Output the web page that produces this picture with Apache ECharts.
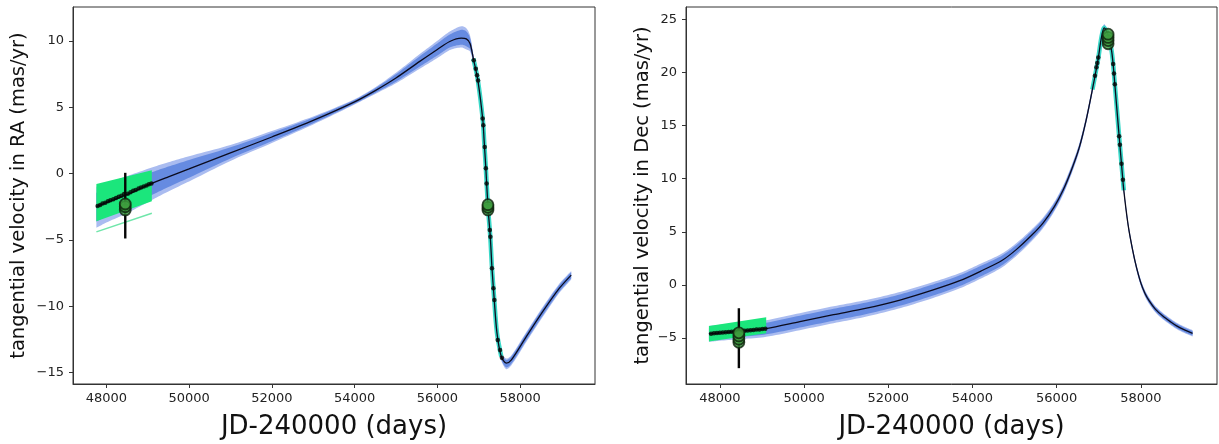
<!DOCTYPE html>
<html>
<head>
<meta charset="utf-8">
<script src="https://cdn.jsdelivr.net/npm/echarts@6/dist/echarts.min.js"></script>
<style>
html,body{margin:0;padding:0;background:#fff;}
#chart{width:1219px;height:444px;}
</style>
</head>
<body>
<div id="chart"></div>
<script>
// ---------- DATA ----------
// Axis tick labels
const xTicks = [48000, 50000, 52000, 54000, 56000, 58000];
const raYTicks = [-15, -10, -5, 0, 5, 10];
const decYTicks = [-5, 0, 5, 10, 15, 20, 25];

// Left panel: tangential velocity in RA
const raX = [47760, 48000, 48500, 49100, 49500, 50000, 51000, 52000, 53000, 54000, 54500, 55000, 55575, 56000, 56300, 56580, 56700, 56790, 56870, 56980, 57100, 57130, 57170, 57223, 57280, 57320, 57370, 57440, 57545, 57665, 57790, 58150, 58550, 58950, 59235];
const raY = [-2.5, -2.2, -1.6, -0.75, -0.25, 0.35, 1.55, 2.75, 4.0, 5.4, 6.25, 7.2, 8.45, 9.35, 9.95, 10.2, 10.15, 9.8, 8.66, 7.0, 4.0, 2.5, 0.5, -2.5, -4.8, -7.1, -9.3, -12.0, -13.8, -14.3, -14.05, -12.3, -10.4, -8.65, -7.66];
const raUp = [-1.0, -0.75, -0.2, 0.45, 0.85, 1.3, 2.15, 3.2, 4.3, 5.6, 6.5, 7.6, 9.0, 10.0, 10.7, 11.1, 10.95, 10.4, 9.0, 7.3, 4.3, 2.8, 0.8, -2.2, -4.5, -6.8, -9.0, -11.7, -13.5, -13.95, -13.7, -11.95, -10.05, -8.3, -7.35];
const raLo = [-4.1, -3.7, -3.0, -2.0, -1.35, -0.6, 0.95, 2.3, 3.7, 5.2, 6.0, 6.8, 7.9, 8.7, 9.3, 9.5, 9.35, 9.2, 8.3, 6.7, 3.7, 2.2, 0.2, -2.8, -5.1, -7.4, -9.6, -12.3, -14.1, -14.75, -14.45, -12.7, -10.8, -9.0, -8.0];
const raHipX = [47760, 49100];
const raHipTop = [-0.8, 0.25];
const raHipBot = [-3.6, -2.1];
const raHipOutlier = [-4.4, -3.0];
const raGaiaRange = [56850, 57600];
const raHipDotsX = [47790, 47850, 47910, 47975, 48040, 48100, 48170, 48235, 48300, 48365, 48430, 48520, 48585, 48650, 48710, 48780, 48840, 48905, 48970, 49030, 49090];
const raHipDotsY = [-2.45, -2.38, -2.27, -2.2, -2.1, -2.02, -1.95, -1.84, -1.75, -1.68, -1.55, -1.52, -1.42, -1.3, -1.24, -1.14, -1.05, -0.98, -0.9, -0.82, -0.76];
const raGaiaDotsX = [56880, 56930, 56960, 56985, 57095, 57110, 57145, 57172, 57190, 57268, 57282, 57320, 57355, 57378, 57460, 57515, 57560];
const raGaiaDotsY = [8.53, 7.9, 7.4, 7.0, 4.14, 3.64, 2.0, 0.4, -0.75, -4.27, -4.77, -7.15, -8.66, -9.54, -12.55, -13.3, -13.9];
const raErrX = [48458];
const raErrLo = [-4.9];
const raErrHi = [0.05];
const raObsX = [48458, 48458, 48458, 57223, 57223, 57223];
const raObsY = [-2.75, -2.5, -2.3, -2.75, -2.55, -2.35];

// Right panel: tangential velocity in Dec
const decX = [47740, 48000, 48500, 49100, 49900, 50700, 51485, 52300, 53067, 53700, 54255, 54700, 55048, 55400, 55680, 55950, 56155, 56350, 56535, 56700, 56850, 56988, 57060, 57130, 57223, 57300, 57342, 57382, 57485, 57541, 57596, 57700, 57800, 57900, 58000, 58100, 58200, 58350, 58530, 58700, 58850, 59050, 59230];
const decY = [-4.6, -4.5, -4.35, -4.1, -3.45, -2.8, -2.19, -1.4, -0.47, 0.4, 1.41, 2.3, 3.35, 4.65, 5.85, 7.4, 8.93, 10.8, 12.9, 15.5, 18.4, 21.3, 23.2, 24.2, 23.5, 22.2, 20.8, 18.9, 14.0, 11.4, 8.9, 5.6, 3.4, 1.6, 0.2, -0.8, -1.5, -2.3, -2.95, -3.45, -3.85, -4.25, -4.55];
const decUp = [-3.85, -3.75, -3.6, -3.32, -2.65, -2.0, -1.41, -0.64, 0.28, 1.12, 2.11, 2.95, 3.95, 5.2, 6.35, 7.85, 9.35, 11.2, 13.28, 15.86, 18.75, 21.65, 23.55, 24.55, 23.8, 22.5, 21.1, 19.2, 14.3, 11.7, 9.2, 5.9, 3.7, 1.9, 0.5, -0.5, -1.2, -2.0, -2.65, -3.15, -3.55, -3.95, -4.25];
const decLo = [-5.35, -5.25, -5.1, -4.88, -4.25, -3.6, -2.97, -2.16, -1.22, -0.32, 0.71, 1.65, 2.75, 4.1, 5.35, 6.95, 8.51, 10.4, 12.52, 15.14, 18.05, 20.95, 22.85, 23.85, 23.2, 21.9, 20.5, 18.6, 13.7, 11.1, 8.6, 5.3, 3.1, 1.3, -0.1, -1.1, -1.8, -2.6, -3.25, -3.75, -4.15, -4.55, -4.85];
const decHipX = [47740, 49100];
const decHipTop = [-3.85, -3.04];
const decHipBot = [-5.33, -4.54];
const decGaiaRange = [56850, 57600];
const decHipDotsX = [47790, 47860, 47930, 48000, 48070, 48140, 48210, 48280, 48350, 48420, 48520, 48590, 48660, 48730, 48800, 48870, 48940, 49010, 49080];
const decHipDotsY = [-4.58, -4.55, -4.53, -4.5, -4.48, -4.45, -4.43, -4.41, -4.38, -4.36, -4.33, -4.3, -4.28, -4.26, -4.23, -4.2, -4.18, -4.15, -4.12];
const decGaiaDotsX = [56910, 56945, 56965, 56990, 57342, 57362, 57382, 57485, 57503, 57541, 57575];
const decGaiaDotsY = [19.7, 20.5, 20.9, 21.4, 20.8, 19.9, 18.9, 14.0, 13.2, 11.4, 9.9];
const decErrX = [48451];
const decErrLo = [-7.83];
const decErrHi = [-2.19];
const decObsX = [48451, 48451, 48451, 48451, 57223, 57223, 57223, 57223];
const decObsY = [-5.4, -5.1, -4.8, -4.5, 22.7, 23.0, 23.3, 23.6];

// ---------- CHART ----------
const FONT = 'DejaVu Sans';
const SMOOTH = 0.3;
const zip = (a, b) => a.map((v, i) => [v, b[i]]);
const fmt = v => (v < 0 ? '\u2212' : '') + Math.abs(v);

// Same smoothing rule as the ECharts line (pixel space), sampled into a dense outline
function smoothOutline(p) {
  const n = p.length, cpIn = [], cpOut = [];
  for (let i = 0; i < n; i++) {
    const prev = p[Math.max(i - 1, 0)], cur = p[i], next = p[Math.min(i + 1, n - 1)];
    const vx = next[0] - prev[0], vy = next[1] - prev[1];
    const l0 = Math.hypot(cur[0] - prev[0], cur[1] - prev[1]);
    const l1 = Math.hypot(next[0] - cur[0], next[1] - cur[1]);
    const r = (l0 + l1) > 0 ? l1 / (l0 + l1) : 0.5;
    cpOut.push(i === n - 1 ? cur : [cur[0] + vx * SMOOTH * r, cur[1] + vy * SMOOTH * r]);
    cpIn.push(i === 0 ? cur : [cur[0] - vx * SMOOTH * (1 - r), cur[1] - vy * SMOOTH * (1 - r)]);
  }
  const out = [p[0]];
  for (let i = 0; i < n - 1; i++) {
    const a = p[i], b = cpOut[i], c = cpIn[i + 1], d = p[i + 1];
    for (let k = 1; k <= 10; k++) {
      const t = k / 10, u = 1 - t;
      out.push([
        u * u * u * a[0] + 3 * u * u * t * b[0] + 3 * u * t * t * c[0] + t * t * t * d[0],
        u * u * u * a[1] + 3 * u * u * t * b[1] + 3 * u * t * t * c[1] + t * t * t * d[1]
      ]);
    }
  }
  return out;
}

function bandSeries(idx, xs, up, lo, color, z, smooth) {
  return {
    type: 'custom', xAxisIndex: idx, yAxisIndex: idx, silent: true, clip: true, z: z,
    data: [[xs[0], up[0]]],
    renderItem: function (params, api) {
      let top = xs.map((x, i) => api.coord([x, up[i]]));
      let bot = xs.map((x, i) => api.coord([x, lo[i]]));
      if (smooth) { top = smoothOutline(top); bot = smoothOutline(bot); }
      const pts = top.concat(bot.reverse());
      return { type: 'polygon', shape: { points: pts }, style: { fill: color } };
    }
  };
}

function panelSeries(idx, d) {
  const inUp = d.y.map((m, k) => m + 0.7 * (d.up[k] - m));
  const inLo = d.y.map((m, k) => m - 0.7 * (m - d.lo[k]));
  const gaia = zip(d.x, d.y).filter(p => p[0] >= d.gaia[0] && p[0] <= d.gaia[1]);
  const s = [];
  s.push(bandSeries(idx, d.x, d.up, d.lo, '#aabcf0', 1, true));
  s.push(bandSeries(idx, d.x, inUp, inLo, '#668be1', 2, true));
  s.push(bandSeries(idx, d.hipX, d.hipTop, d.hipBot, '#1be67c', 3, false));
  if (d.outlier) {
    s.push({ type: 'line', xAxisIndex: idx, yAxisIndex: idx, z: 3, silent: true, symbol: 'none',
      data: zip(d.hipX, d.outlier), lineStyle: { color: '#6fe6aa', width: 1.5 } });
  }
  s.push({ type: 'line', xAxisIndex: idx, yAxisIndex: idx, z: 4, silent: true, symbol: 'none',
    smooth: SMOOTH, data: gaia, lineStyle: { color: '#3ad8c8', width: 4.5 } });
  s.push({ type: 'line', xAxisIndex: idx, yAxisIndex: idx, z: 5, silent: true, symbol: 'none',
    smooth: SMOOTH, data: zip(d.x, d.y), lineStyle: { color: '#0b0b1e', width: 1.3 } });
  s.push({ type: 'scatter', xAxisIndex: idx, yAxisIndex: idx, z: 6, silent: true,
    symbolSize: 4.5, itemStyle: { color: '#050505' },
    data: zip(d.hipDotsX, d.hipDotsY).concat(zip(d.gaiaDotsX, d.gaiaDotsY)) });
  s.push({ type: 'custom', xAxisIndex: idx, yAxisIndex: idx, z: 7, silent: true,
    data: d.errX.map((x, k) => [x, d.errLo[k], d.errHi[k]]),
    renderItem: function (params, api) {
      const a = api.coord([api.value(0), api.value(1)]);
      const b = api.coord([api.value(0), api.value(2)]);
      return { type: 'line', shape: { x1: a[0], y1: a[1], x2: b[0], y2: b[1] },
        style: { stroke: '#050505', lineWidth: 2.4 } };
    } });
  s.push({ type: 'scatter', xAxisIndex: idx, yAxisIndex: idx, z: 8, silent: true,
    symbolSize: 11, itemStyle: { color: '#3f9f3f', borderColor: '#0e200d', borderWidth: 1.8 },
    data: zip(d.obsX, d.obsY) });
  return s;
}

function xAxisCfg(idx) {
  return {
    type: 'value', gridIndex: idx, min: 47195, max: 59810,
    name: 'JD-240000 (days)', nameLocation: 'middle', nameGap: 30,
    nameTextStyle: { fontFamily: FONT, fontSize: 26, color: '#111' },
    axisLine: { show: true, onZero: false, lineStyle: { color: '#333', width: 1 } },
    axisTick: { show: true, inside: false, length: 4, customValues: xTicks, lineStyle: { color: '#333' } },
    axisLabel: { customValues: xTicks, margin: 8, fontFamily: FONT, fontSize: 13, color: '#222', formatter: v => String(v) },
    splitLine: { show: false }
  };
}
function yAxisCfg(idx, min, max, ticks, name, gap) {
  return {
    type: 'value', gridIndex: idx, min: min, max: max,
    name: name, nameLocation: 'middle', nameGap: gap,
    nameTextStyle: { fontFamily: FONT, fontSize: 19.5, color: '#111' },
    axisLine: { show: true, onZero: false, lineStyle: { color: '#333', width: 1 } },
    axisTick: { show: true, inside: false, length: 4, customValues: ticks, lineStyle: { color: '#333' } },
    axisLabel: { customValues: ticks, margin: 9, fontFamily: FONT, fontSize: 13, color: '#222', formatter: fmt },
    splitLine: { show: false }
  };
}

const chart = echarts.init(document.getElementById('chart'), null, { renderer: 'canvas' });
chart.setOption({
  animation: false,
  backgroundColor: '#fff',
  grid: [
    { left: 73, top: 7, width: 522, height: 377, show: true, borderColor: '#333', borderWidth: 1, containLabel: false, outerBoundsMode: 'none' },
    { left: 686, top: 7, width: 531, height: 377, show: true, borderColor: '#333', borderWidth: 1, containLabel: false, outerBoundsMode: 'none' }
  ],
  xAxis: [xAxisCfg(0), xAxisCfg(1)],
  yAxis: [
    yAxisCfg(0, -15.87, 12.55, raYTicks, 'tangential velocity in RA (mas/yr)', 44),
    yAxisCfg(1, -9.32, 26.16, decYTicks, 'tangential velocity in Dec (mas/yr)', 33)
  ],
  series: [].concat(
    panelSeries(0, { x: raX, y: raY, up: raUp, lo: raLo, hipX: raHipX, hipTop: raHipTop, hipBot: raHipBot,
      outlier: raHipOutlier, gaia: raGaiaRange, hipDotsX: raHipDotsX, hipDotsY: raHipDotsY,
      gaiaDotsX: raGaiaDotsX, gaiaDotsY: raGaiaDotsY, errX: raErrX, errLo: raErrLo, errHi: raErrHi,
      obsX: raObsX, obsY: raObsY }),
    panelSeries(1, { x: decX, y: decY, up: decUp, lo: decLo, hipX: decHipX, hipTop: decHipTop, hipBot: decHipBot,
      outlier: null, gaia: decGaiaRange, hipDotsX: decHipDotsX, hipDotsY: decHipDotsY,
      gaiaDotsX: decGaiaDotsX, gaiaDotsY: decGaiaDotsY, errX: decErrX, errLo: decErrLo, errHi: decErrHi,
      obsX: decObsX, obsY: decObsY })
  )
});
</script>
</body>
</html>
